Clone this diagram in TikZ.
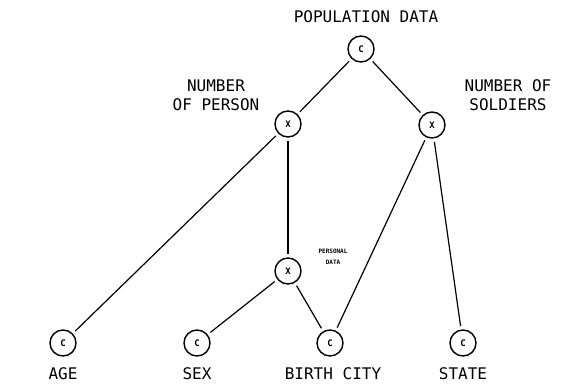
\documentclass[tikz,border=0pt]{standalone}
\usepackage{fontspec}
\newfontfamily\plotfont{DejaVu Sans Mono}
\begin{document}
\begin{tikzpicture}[x=1pt,y=-1pt,
  every node/.style={font=\plotfont},
  vertex/.style={circle,draw,line width=1.4pt,minimum size=26pt,inner sep=0pt,outer sep=4pt,font=\plotfont\bfseries\fontsize{9}{9}\selectfont},
  caption/.style={font=\plotfont\fontsize{16}{19}\selectfont,align=center,inner sep=0pt},
  tinycap/.style={font=\plotfont\bfseries\fontsize{6}{11}\selectfont,align=center,inner sep=0pt},
  link/.style={line width=1.2pt}]
\useasboundingbox (0,0) rectangle (571,391);
% tree vertices
\node[vertex] (pop) at (361,49) {C};
\node[vertex] (nop) at (288,124) {X};
\node[vertex] (nos) at (432,125) {X};
\node[vertex] (pd)  at (288,271) {X};
\node[vertex] (age) at (63,343) {C};
\node[vertex] (sex) at (197,343) {C};
\node[vertex] (bc)  at (330,343) {C};
\node[vertex] (st)  at (463,343) {C};
% vertex labels
\node[caption] (lpop) at (366,17) {POPULATION DATA};
\node[caption] (lnop) at (216,95) {NUMBER\\OF PERSON};
\node[caption] (lnos) at (508,95) {NUMBER OF\\SOLDIERS};
\node[tinycap] (lpd) at (333,257) {PERSONAL\\DATA};
\node[caption] (lage) at (63,374) {AGE};
\node[caption] (lsex) at (197,374) {SEX};
\node[caption] (lbc)  at (333,374) {BIRTH CITY};
\node[caption] (lst)  at (463,374) {STATE};
% edges
\draw[link] (pop) -- (nop);
\draw[link] (pop) -- (nos);
\draw[link] (nop) -- (age);
\draw[link] (nop) -- (pd);
\draw[link] (nos) -- (bc);
\draw[link] (nos) -- (st);
\draw[link] (pd) -- (sex);
\draw[link] (pd) -- (bc);
\end{tikzpicture}
\end{document}
